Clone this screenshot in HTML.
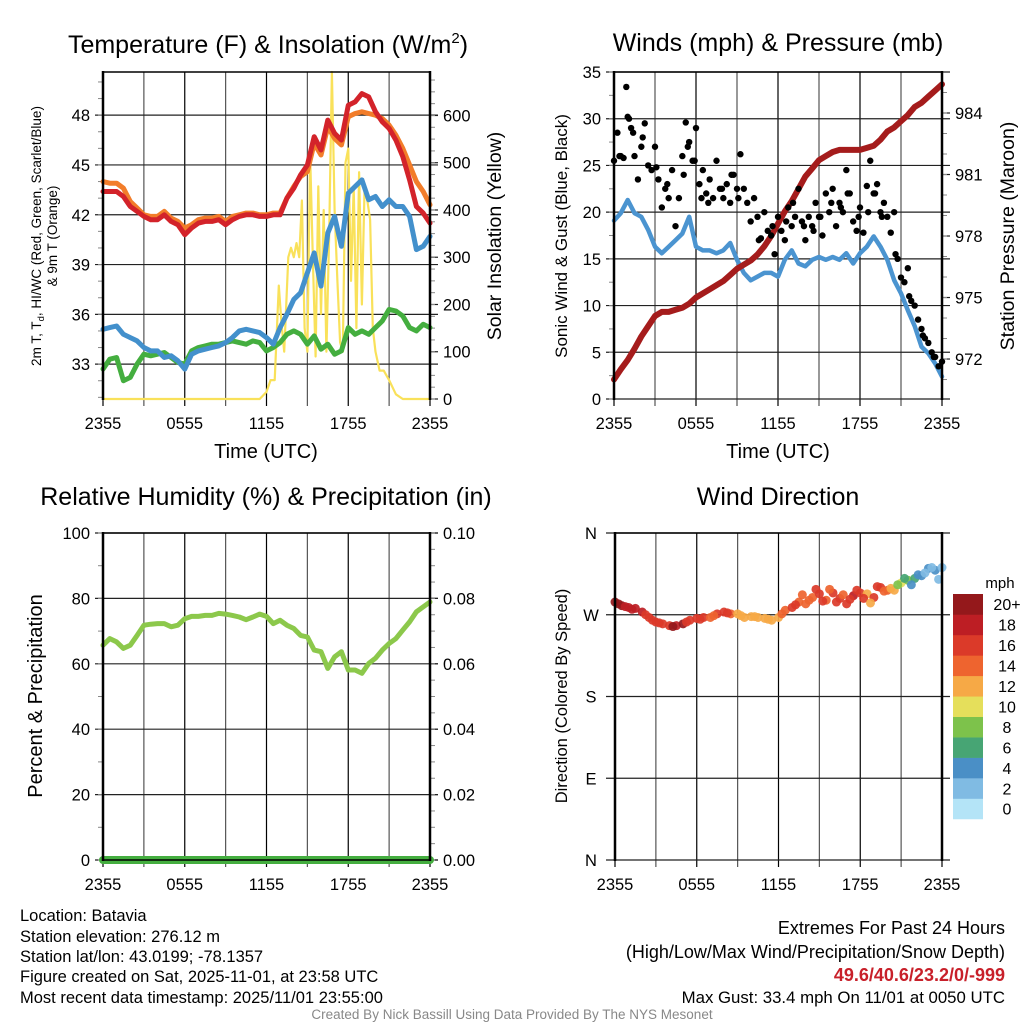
<!DOCTYPE html>
<html><head><meta charset="utf-8"><style>
html,body{margin:0;padding:0;background:#fff;}
svg{display:block;font-family:"Liberation Sans",Arial,sans-serif;}
</style></head><body>
<svg id="c" width="1024" height="1024" viewBox="0 0 1024 1024" xmlns="http://www.w3.org/2000/svg">
<rect width="1024" height="1024" fill="#fff"/>
<g id="g1"></g>
<g id="g2"></g>
<g id="g3"></g>
<g id="g4"></g>
<text x="268" y="53" font-size="25" text-anchor="middle">Temperature (F) &amp; Insolation (W/m<tspan font-size="15" dy="-10">2</tspan><tspan dy="10">)</tspan></text>
<text x="778" y="51" font-size="25" text-anchor="middle">Winds (mph) &amp; Pressure (mb)</text>
<text x="266" y="505" font-size="25" text-anchor="middle">Relative Humidity (%) &amp; Precipitation (in)</text>
<text x="778" y="505" font-size="25" text-anchor="middle">Wind Direction</text>
<text transform="translate(41,236) rotate(-90)" font-size="13.5" text-anchor="middle">2m T, T<tspan font-size="9.5" dy="3">d</tspan><tspan dy="-3">, HI/WC (Red, Green, Scarlet/Blue)</tspan></text>
<text transform="translate(57,236) rotate(-90)" font-size="13.5" text-anchor="middle">&amp; 9m T (Orange)</text>
<text transform="translate(501,236) rotate(-90)" font-size="19.5" text-anchor="middle">Solar Insolation (Yellow)</text>
<text transform="translate(567,236) rotate(-90)" font-size="17" text-anchor="middle">Sonic Wind &amp; Gust (Blue, Black)</text>
<text transform="translate(1014,236) rotate(-90)" font-size="19.5" text-anchor="middle">Station Pressure (Maroon)</text>
<text transform="translate(42,696) rotate(-90)" font-size="20" text-anchor="middle">Percent &amp; Precipitation</text>
<text transform="translate(567,696) rotate(-90)" font-size="16.5" text-anchor="middle">Direction (Colored By Speed)</text>
<text x="266" y="458" font-size="20" text-anchor="middle">Time (UTC)</text>
<text x="778" y="458" font-size="20" text-anchor="middle">Time (UTC)</text>
<text x="1000" y="588" font-size="15" text-anchor="middle">mph</text>
<g font-size="16.5">
<text x="20" y="921">Location: Batavia</text>
<text x="20" y="942">Station elevation: 276.12 m</text>
<text x="20" y="962">Station lat/lon: 43.0199; -78.1357</text>
<text x="20" y="982">Figure created on Sat, 2025-11-01, at 23:58 UTC</text>
<text x="20" y="1003">Most recent data timestamp: 2025/11/01 23:55:00</text>
</g>
<g font-size="18" text-anchor="end">
<text x="1005" y="934">Extremes For Past 24 Hours</text>
<text x="1005" y="958">(High/Low/Max Wind/Precipitation/Snow Depth)</text>
<text x="1005" y="981" fill="#c8202a" font-weight="bold">49.6/40.6/23.2/0/-999</text>
<text x="1005" y="1003" font-size="16.8">Max Gust: 33.4 mph On 11/01 at 0050 UTC</text>
</g>
<text x="512" y="1019" font-size="13.5" fill="#888" text-anchor="middle">Created By Nick Bassill Using Data Provided By The NYS Mesonet</text>
</svg>
<script>
// ---- data (time in hours since 2355 UTC) ----
const halfHours = [0,0.5,1,1.5,2,2.5,3,3.5,4,4.5,5,5.5,6,6.5,7,7.5,8,8.5,9,9.5,10,10.5,11,11.5,12,12.5,13,13.5,14,14.5,15,15.5,16,16.5,17,17.5,18,18.5,19,19.5,20,20.5,21,21.5,22,22.5,23,23.5,24];
const temp2m = [43.4,43.4,43.4,43.1,42.5,42.2,41.9,41.7,41.7,42.0,41.6,41.4,40.8,41.2,41.5,41.6,41.6,41.7,41.4,41.7,41.9,42.0,42.0,41.9,41.9,42.0,42.0,43.0,43.6,44.4,45.0,46.7,45.9,47.7,46.9,46.5,48.6,48.8,49.3,49.1,48.2,47.6,47.2,46.5,45.5,44.1,42.5,42.1,41.5];
const temp9m = [44.0,43.9,43.9,43.6,42.8,42.4,42.0,41.9,41.9,42.2,41.8,41.6,41.2,41.4,41.7,41.8,41.8,41.9,41.6,41.9,42.0,42.1,42.1,42.0,42.0,42.1,42.1,43.0,43.7,44.3,44.6,46.3,45.6,47.3,46.6,46.2,47.9,48.1,48.2,48.1,48.0,47.8,47.4,46.8,46.0,45.0,44.0,43.4,42.6];
const heatIndexWC = [35.1,35.2,35.3,34.8,34.6,34.4,34.0,33.8,33.8,33.4,33.5,33.2,32.7,33.6,33.8,33.9,34.0,34.1,34.3,34.6,35.0,35.1,35.0,34.9,34.6,34.2,35.2,36.0,36.9,37.3,38.5,39.7,37.7,40.9,41.9,40.1,43.3,43.7,44.1,42.9,43.1,42.5,42.9,42.5,42.5,41.9,39.9,40.1,40.7];
const dewpoint = [32.7,33.3,33.4,32.0,32.2,33.0,33.6,33.5,33.6,33.7,33.4,33.1,33.0,33.8,34.0,34.1,34.2,34.2,34.3,34.4,34.3,34.2,34.4,34.3,33.8,34.0,34.3,34.8,35.0,34.8,34.2,34.7,33.9,34.2,33.6,33.8,35.2,34.8,35.0,34.8,35.2,35.6,36.3,36.2,35.9,35.2,35.0,35.4,35.2];
const solarTimes = [0,11.5,12,12.3,12.6,12.9,13.1,13.3,13.6,13.8,14.0,14.2,14.4,14.6,14.8,15.0,15.2,15.4,15.6,15.8,16.0,16.2,16.4,16.6,16.8,17.0,17.2,17.4,17.6,17.8,18.0,18.2,18.4,18.6,18.8,19.0,19.2,19.4,19.6,19.8,20.0,20.3,20.6,21.0,21.5,22,24];
const solarValues = [0,0,15,40,40,240,160,100,300,320,300,330,300,420,150,100,520,300,90,450,180,400,100,350,692,400,250,120,100,500,530,250,450,150,480,200,450,420,380,150,100,60,60,40,10,0,0];
const sonicWind = [19.1,19.9,21.3,19.9,19.5,18.1,16.3,15.6,16.3,17.0,17.7,19.5,16.3,15.9,15.9,15.6,15.9,16.7,14.9,13.5,12.7,13.1,13.5,13.5,13.1,14.9,15.9,14.5,14.2,14.9,15.2,14.9,15.2,14.9,15.6,14.5,15.6,16.3,17.4,16.3,14.9,12.7,11.3,9.5,7.8,5.6,4.9,3.8,2.4];
const pressure = [971.0,971.5,971.95,972.5,973.1,973.6,974.1,974.3,974.3,974.4,974.5,974.7,975.0,975.2,975.4,975.6,975.8,976.1,976.4,976.6,976.8,977.1,977.5,978.0,978.6,979.2,979.7,980.3,980.9,981.3,981.7,981.9,982.1,982.2,982.2,982.2,982.2,982.3,982.4,982.7,983.1,983.3,983.6,983.9,984.3,984.5,984.8,985.1,985.4];
const gustTimes = [0,0.25,0.5,0.9,1.0,1.25,1.5,1.75,2.0,2.25,2.5,2.75,3.0,3.25,3.5,3.75,4.0,4.25,4.5,4.75,5.0,5.25,5.5,5.75,6.0,6.25,6.5,6.75,7.0,7.25,7.5,7.75,8.0,8.25,8.5,8.75,9.0,9.25,9.5,9.75,10.0,10.25,10.5,10.75,11.0,11.25,11.5,11.75,12.0,12.25,12.5,12.75,13.0,13.25,13.5,13.75,14.0,14.25,14.5,14.75,15.0,15.25,15.5,15.75,16.0,16.25,16.5,16.75,17.0,17.25,17.5,17.75,18.0,18.25,18.5,18.75,19.0,19.25,19.5,19.75,20.0,20.25,20.5,20.75,21.0,21.25,21.5,21.75,22.0,22.25,22.5,22.75,23.0,23.25,23.5,23.75,24.0,0.4,0.7,1.1,1.4,2.1,3.1,3.9,5.1,5.4,5.9,6.4,6.9,7.9,8.6,9.1,10.6,11.6,12.6,13.1,13.9,14.6,15.1,15.9,16.6,17.1,17.9,18.6,19.1,19.6,20.6,21.6,22.6,23.4];
const gustValues = [25.5,28.5,26,33.4,30.2,29,26,23.5,27,29.5,25,24.5,27,23.5,20.5,22.5,21.5,24.5,18.5,21.5,26,29.6,27.5,25.5,29,23,24.5,22,23.5,21.5,25.5,22.5,21.5,23,21,24,22.5,26.2,22.5,21,19,21.5,19.5,17.2,20,18,17.5,15.5,19.5,18,17,20.5,18.5,19.5,22.5,19,17,19.5,18.5,21,19.5,17.5,22,20,22.5,18.5,21,20,24.5,22,19,18,20.5,17.8,22.8,25.5,22,23,20,21,19.5,17.8,20,15,13,12.5,14,10.5,10,8.5,7.5,6.5,6,5,4.5,3.5,4,26,25.8,30,28.5,28,24.8,23,24,27,25.5,21.5,21,22.5,24,21.5,17,18.5,19,21,18.5,18,19.5,21,20.5,22,19.5,20,22,19.5,15.5,11,6.8,4.5];
const relHumidity = [65.7,67.7,66.7,64.7,65.7,68.7,71.8,72.1,72.3,72.3,71.3,71.8,73.8,74.5,74.5,74.8,74.8,75.4,75.2,74.8,74.3,73.5,74.3,75.2,74.5,72.3,73.3,71.8,70.8,68.7,68.2,64.2,63.7,58.6,62.1,63.7,58.1,58.1,57.1,60.1,61.7,64.2,66.2,67.7,70.3,72.8,75.9,77.4,78.9];
const precipTimes = [0,24];
const precipValues = [0,0];
const dirTimes = [0,0.5,1,1.5,2,2.5,3,3.5,4,4.5,5,5.5,6,6.5,7,7.5,8,8.5,9,9.5,10,10.5,11,11.5,12,12.5,13,13.5,14,14.5,15,15.5,16,16.5,17,17.5,18,18.5,19,19.5,20,20.5,21,21.5,22,22.5,23,23.5,24,0.25,0.75,1.25,2.25,2.75,3.25,4.25,5.25,6.25,7.25,8.25,9.25,10.25,11.25,12.25,13.25,13.75,14.25,14.75,15.25,15.75,16.25,16.75,17.25,17.75,18.25,18.75,19.25,19.75,20.25,20.75,21.25,21.75,22.25,22.75,23.25,23.75];
const dirValues = [284,280,278,277,273,267,262,260,258,258,260,264,266,267,267,271,273,271,271,267,268,267,266,264,267,275,278,284,282,289,293,286,294,288,282,291,294,293,289,300,297,297,305,308,310,313,321,319,322,282,279,276,270,264,261,257,262,265,269,272,269,268,265,271,281,292,286,298,285,298,284,292,287,297,288,283,301,296,299,303,310,303,314,316,322,309];
const dirSpeeds = [20,20,19,19,18,17,16,16,16,19,20,17,16,16,15,16,17,14,13,12,13,12,12,12,13,15,17,15,14,15,17,14,16,17,16,18,16,13,17,16,14,12,10,8,6,4,5,4,2,20,19,18,17,16,17,20,17,16,15,16,13,12,12,14,16,14,15,16,17,15,16,14,17,16,17,12,16,15,13,8,6,5,4,3,2,3];
const xTickLabels = ['2355','0555','1155','1755','2355'];
const binColors = ['#b4e4f7','#80bbe3','#4a8fc6','#47a574','#7dc24b','#e5df5b','#f6a946','#ee642f','#db3a29','#bd1e24','#94181b'];
const binLabels = ['0','2','4','6','8','10','12','14','16','18','20+'];
</script>
<script>
const NS='http://www.w3.org/2000/svg';
function mk(parent,tag,attrs){const e=document.createElementNS(NS,tag);for(const k in attrs)e.setAttribute(k,attrs[k]);parent.appendChild(e);return e;}
function lin(d0,d1,r0,r1){return v=>r0+(v-d0)/(d1-d0)*(r1-r0);}
function frame(g,P){
  const xs=lin(0,24,P.x0,P.x1);
  for(let h=0;h<=24;h+=3){const x=xs(h);
    const l=mk(g,'line',{x1:x,x2:x,y1:P.y0,y2:P.y1+7,stroke:(h%6==0)?'#000':'#555','stroke-width':1.2});
    
    
  }
  xTickLabels.forEach((s,i)=>{const t=mk(g,'text',{x:xs(i*6),y:P.y1+30,'font-size':16.5,'text-anchor':'middle'});t.textContent=s;
    
    });
  return xs;
}
function yAxis(g,P,ys,ticks,labels,side,minor){
  ticks.forEach((v,i)=>{const y=ys(v);
    const l=mk(g,'line',{x1:P.x0-8,x2:P.x1+8,y1:y,y2:y,stroke:'#222','stroke-width':1.2});
    
    
    if(labels[i]!==null){const t=mk(g,'text',{x:side=='l'?P.x0-13:P.x1+13,y:y+6,'font-size':16.5,'text-anchor':side=='l'?'end':'start'});t.textContent=labels[i];
    
    }
  });
  (minor||[]).forEach(v=>{const y=ys(v);if(y<P.y0||y>P.y1)return;const x=side=='l'?P.x0:P.x1;
    const l=mk(g,'line',{x1:side=='l'?x-5:x,x2:side=='l'?x:x+5,y1:y,y2:y,stroke:'#888','stroke-width':1});
    
    });
}
function rightTicks(g,P,ys,ticks,labels,minor){
  ticks.forEach((v,i)=>{const y=ys(v);
    const l=mk(g,'line',{x1:P.x1,x2:P.x1+8,y1:y,y2:y,stroke:'#222','stroke-width':1.2});
    
    
    const t=mk(g,'text',{x:P.x1+13,y:y+6,'font-size':16.5});t.textContent=labels[i];
    
    });
  (minor||[]).forEach(v=>{const y=ys(v);if(y<P.y0||y>P.y1)return;
    const l=mk(g,'line',{x1:P.x1,x2:P.x1+5,y1:y,y2:y,stroke:'#888','stroke-width':1});
    
    });
}
function border(g,P){
  const a=mk(g,'line',{x1:P.x0,x2:P.x0,y1:P.y0-1,y2:P.y1+1,stroke:'#000','stroke-width':2.5});
  
  const b=mk(g,'line',{x1:P.x1,x2:P.x1,y1:P.y0-1,y2:P.y1+1,stroke:'#000','stroke-width':2.5});
  
  const c=mk(g,'line',{x1:P.x0,x2:P.x1,y1:P.y0,y2:P.y0,stroke:'#000','stroke-width':1.5});
  
}
function series(g,xs,ys,T,V,color,w,name){
  const d=T.map((t,i)=>(i?'L':'M')+xs(t).toFixed(1)+','+ys(V[i]).toFixed(1)).join('');
  const p=mk(g,'path',{d:d,fill:'none',stroke:color,'stroke-width':w,'stroke-linejoin':'round','stroke-linecap':'round'});
  
  
  return p;
}
function rng(a,b,s){const r=[];for(let v=a;v<=b+1e-9;v+=s)r.push(+v.toFixed(4));return r;}

// Panel 1
{const g=document.getElementById('g1');const P={x0:103,x1:430,y0:72,y1:399};
 const xs=frame(g,P);const yt=lin(30.9,50.6,P.y1,P.y0);const yS=lin(0,692,P.y1,P.y0);
 yAxis(g,P,yt,[33,36,39,42,45,48],['33','36','39','42','45','48'],'l',rng(31,50,1));
 rightTicks(g,P,yS,[0,100,200,300,400,500,600],['0','100','200','300','400','500','600'],rng(0,690,25));
 series(g,xs,yS,solarTimes,solarValues,'#f9e15a',2.2,'solar-line');
 series(g,xs,yt,halfHours,dewpoint,'#44ae3f',5,'dewpoint-line');
 series(g,xs,yt,halfHours,heatIndexWC,'#4390cc',5,'windchill-line');
 series(g,xs,yt,halfHours,temp9m,'#f27d2a',5,'temp-9m-line');
 series(g,xs,yt,halfHours,temp2m,'#d3232a',5,'temp-2m-line');
 border(g,P);}
// Panel 2
{const g=document.getElementById('g2');const P={x0:614,x1:942,y0:72,y1:399};
 const xs=frame(g,P);const yw=lin(0,35,P.y1,P.y0);const yp=lin(970.05,986.0,P.y1,P.y0);
 yAxis(g,P,yw,[0,5,10,15,20,25,30,35],['0','5','10','15','20','25','30','35'],'l',rng(0,35,2.5));
 rightTicks(g,P,yp,[972,975,978,981,984],['972','975','978','981','984'],rng(971,985,1));
 series(g,xs,yw,halfHours,sonicWind,'#4b94d0',4.5,'sonic-wind-line');
 series(g,xs,yp,halfHours,pressure,'#a51c1c',6,'pressure-line');
 gustTimes.forEach((t,i)=>{const c=mk(g,'circle',{cx:xs(t),cy:yw(gustValues[i]),r:3.2,fill:'#000'});
   
   });
 border(g,P);}
// Panel 3
{const g=document.getElementById('g3');const P={x0:103,x1:430,y0:533,y1:860};
 const xs=frame(g,P);const yr=lin(0,100,P.y1,P.y0);const ypr=lin(0,0.1,P.y1,P.y0);
 yAxis(g,P,yr,[0,20,40,60,80,100],['0','20','40','60','80','100'],'l',rng(0,100,10));
 rightTicks(g,P,yr,[0,20,40,60,80,100],['0.00','0.02','0.04','0.06','0.08','0.10'],rng(0,100,5));
 series(g,xs,yr,halfHours,relHumidity,'#8cc84b',5,'humidity-line');
 series(g,xs,ypr,precipTimes,precipValues,'#44ae3f',8,'precip-line');
 const b=mk(g,'line',{x1:P.x0,x2:P.x1,y1:P.y1,y2:P.y1,stroke:'#000','stroke-width':1.5});
 
 border(g,P);}
// Panel 4
{const g=document.getElementById('g4');const P={x0:615,x1:942,y0:533,y1:860};
 const xs=frame(g,P);const yd=lin(0,360,P.y1,P.y0);
 [0,90,180,270,360].forEach((v,i)=>{const y=yd(v);
   const l=mk(g,'line',{x1:P.x0-9,x2:P.x1+8,y1:y,y2:y,stroke:'#222','stroke-width':1.2});
   
   const t=mk(g,'text',{x:591,y:y+6,'font-size':16.5,'text-anchor':'middle'});t.textContent=['N','E','S','W','N'][i];
   });
 dirTimes.forEach((t,i)=>{const bin=Math.min(10,Math.floor(dirSpeeds[i]/2));
   const c=mk(g,'circle',{cx:xs(t),cy:yd(dirValues[i]),r:4.5,fill:binColors[bin],'fill-opacity':0.92});
   
   });
 border(g,P);
 const cy0=594,bh=20.45;
 binColors.forEach((col,i)=>{const y=cy0+(10-i)*bh;
   const r=mk(g,'rect',{x:953,y:y,width:30,height:bh+0.3,fill:col});
   
   const t=mk(g,'text',{x:1007,y:y+bh/2+6,'font-size':16,'text-anchor':'middle'});t.textContent=binLabels[i];
   });
}
</script>
</body></html>
